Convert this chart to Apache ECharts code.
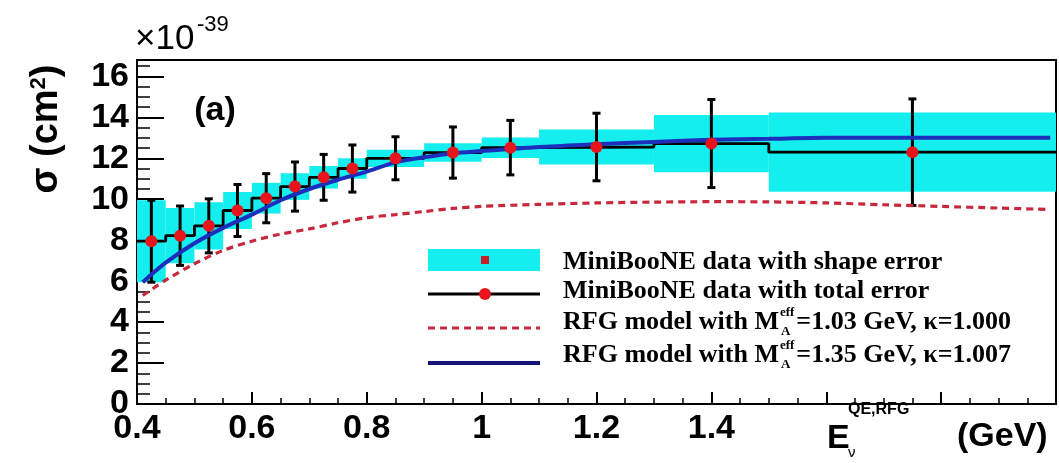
<!DOCTYPE html>
<html>
<head>
<meta charset="utf-8">
<script src="https://cdn.jsdelivr.net/npm/echarts@6/dist/echarts.min.js"></script>
<style>
  html, body { margin: 0; padding: 0; background: #fff; }
  #chart { width: 1059px; height: 463px; }
</style>
</head>
<body>
<div id="chart"></div>
<script>
// MiniBooNE CCQE cross section per neutron, in units of 1e-39 cm^2
const binLo     = [0.40, 0.45, 0.50, 0.55, 0.60, 0.65, 0.70, 0.75, 0.80, 0.90, 1.00, 1.10, 1.30, 1.50];
const binHi     = [0.45, 0.50, 0.55, 0.60, 0.65, 0.70, 0.75, 0.80, 0.90, 1.00, 1.10, 1.30, 1.50, 2.00];
const binCenter = [0.425, 0.475, 0.525, 0.575, 0.625, 0.675, 0.725, 0.775, 0.85, 0.95, 1.05, 1.20, 1.40, 1.75];
const xsec      = [7.95, 8.22, 8.70, 9.45, 10.05, 10.62, 11.07, 11.50, 12.00, 12.28, 12.52, 12.55, 12.72, 12.30];
const shapeErr  = [2.00, 1.35, 1.15, 0.90, 0.75, 0.65, 0.55, 0.50, 0.42, 0.45, 0.50, 0.85, 1.40, 1.93];
const totalErr  = [2.00, 1.45, 1.32, 1.27, 1.20, 1.20, 1.12, 1.15, 1.05, 1.25, 1.33, 1.65, 2.15, 2.60];

// RFG model predictions
const modelE      = [0.41, 0.45, 0.50, 0.55, 0.60, 0.65, 0.70, 0.75, 0.80, 0.85, 0.90, 0.95, 1.00, 1.10, 1.20, 1.30, 1.40, 1.50, 1.60, 1.70, 1.80, 1.90, 1.99];
const rfgNominal  = [5.30, 6.05, 6.85, 7.50, 7.95, 8.30, 8.55, 8.85, 9.10, 9.25, 9.40, 9.55, 9.65, 9.75, 9.82, 9.86, 9.88, 9.87, 9.82, 9.73, 9.65, 9.57, 9.50];
const rfgFitted   = [5.95, 6.90, 7.85, 8.60, 9.25, 9.95, 10.50, 10.95, 11.35, 11.80, 12.05, 12.25, 12.35, 12.55, 12.68, 12.80, 12.90, 12.95, 13.00, 13.00, 13.00, 13.00, 13.00];

// Labelled ticks
const xTickLabels = [0.4, 0.6, 0.8, 1.0, 1.2, 1.4];
const yTickLabels = [0, 2, 4, 6, 8, 10, 12, 14, 16];

const legendLabels = [
  'MiniBooNE data with shape error',
  'MiniBooNE data with total error',
  ['RFG model with M', '=1.03 GeV, \u03ba=1.000'],
  ['RFG model with M', '=1.35 GeV, \u03ba=1.007']
];

const CYAN = '#14eeee';
const RED = '#e8141c';
const BLUE = '#1c2fbc';
const DASH_RED = '#c8283c';
const SANS = '"Liberation Sans", Arial, Helvetica, sans-serif';
const SERIF = '"Liberation Serif", "Times New Roman", serif';

const boxData = binLo.map((lo, i) => [lo, binHi[i], xsec[i] + shapeErr[i], xsec[i] - shapeErr[i]]);
const errData = binCenter.map((x, i) => [x, xsec[i] - totalErr[i], xsec[i] + totalErr[i]]);
const stepData = [];
binLo.forEach((lo, i) => { stepData.push([lo, xsec[i]], [binHi[i], xsec[i]]); });
const pointData = binCenter.map((x, i) => [x, xsec[i]]);
const nominalData = modelE.map((e, i) => [e, rfgNominal[i]]);
const fittedData = modelE.map((e, i) => [e, rfgFitted[i]]);

const near = (v, list) => list.some(t => Math.abs(t - v) < 1e-6);

// text measurement for placing the M_A^eff sub/superscripts
const ctx = document.createElement('canvas').getContext('2d');
function textWidth(str, font) { ctx.font = font; return ctx.measureText(str).width; }

const legFont = 'bold 26px ' + SERIF;
const legSmall = 'bold 13px ' + SERIF;
const legX = 563;
const legRows = [262, 291, 322, 355];
const symRows = [260, 294, 328, 363];

function txt(x, y, text, font, align) {
  return { type: 'text', x: x, y: y, style: { text: text, font: font, fill: '#000', align: align || 'left', verticalAlign: 'middle', textAlign: align || 'left', textVerticalAlign: 'middle' } };
}

const graphics = [];
// legend symbols
graphics.push({ type: 'rect', shape: { x: 428, y: symRows[0] - 11, width: 112, height: 22 }, style: { fill: CYAN } });
graphics.push({ type: 'rect', shape: { x: 481, y: symRows[0] - 4, width: 8, height: 8 }, style: { fill: '#c4202c' } });
graphics.push({ type: 'line', shape: { x1: 428, y1: symRows[1], x2: 540, y2: symRows[1] }, style: { stroke: '#000', lineWidth: 3 } });
graphics.push({ type: 'circle', shape: { cx: 485, cy: symRows[1], r: 6 }, style: { fill: RED } });
graphics.push({ type: 'line', shape: { x1: 428, y1: symRows[2], x2: 540, y2: symRows[2] }, style: { stroke: DASH_RED, lineWidth: 3, lineDash: [7, 5] } });
graphics.push({ type: 'line', shape: { x1: 428, y1: symRows[3], x2: 540, y2: symRows[3] }, style: { stroke: '#141478', lineWidth: 4 } });

// legend text
legendLabels.forEach((lab, i) => {
  const y = legRows[i];
  if (typeof lab === 'string') {
    graphics.push(txt(legX, y, lab, legFont));
  } else {
    const w1 = textWidth(lab[0], legFont);
    const ws = Math.max(textWidth('eff', legSmall), textWidth('A', legSmall));
    graphics.push(txt(legX, y, lab[0], legFont));
    graphics.push(txt(legX + w1 + 1, y - 9, 'eff', legSmall));
    graphics.push(txt(legX + w1 + 2, y + 10, 'A', legSmall));
    graphics.push(txt(legX + w1 + ws + 3, y, lab[1], legFont));
  }
});

// exponent above the y axis
graphics.push(txt(135, 39, '\u00d710', '35px ' + SANS));
graphics.push(txt(197, 25, '-39', '22px ' + SANS));
// panel tag
graphics.push(txt(215, 111, '(a)', 'bold 34px ' + SANS, 'center'));
// y axis title
graphics.push({
  type: 'text', x: 47, y: 129, rotation: Math.PI / 2,
  style: {
    text: '{a|\u03c3 (cm}{s|2}{a|)}',
    rich: {
      a: { font: 'bold 38px ' + SANS, fill: '#000' },
      s: { font: 'bold 22px ' + SANS, fill: '#000', verticalAlign: 'top' }
    },
    align: 'center', verticalAlign: 'middle', textAlign: 'center', textVerticalAlign: 'middle'
  }
});
// x axis title
graphics.push(txt(827, 439, 'E', 'bold 34px ' + SANS));
graphics.push(txt(848, 410, 'QE,RFG', 'bold 16px ' + SANS));
graphics.push(txt(848, 453, '\u03bd', '15px ' + SANS));
graphics.push(txt(957, 437, '(GeV)', 'bold 34px ' + SANS));

const chart = echarts.init(document.getElementById('chart'), null, { renderer: 'canvas' });

chart.setOption({
  animation: false,
  backgroundColor: '#fff',
  grid: { left: 137, right: 3, top: 60, bottom: 59, show: true, borderColor: '#000', borderWidth: 2, backgroundColor: 'transparent' },
  xAxis: {
    type: 'value', min: 0.4, max: 2.0, interval: 0.2,
    axisLine: { show: true, onZero: false, lineStyle: { color: '#000', width: 2 } },
    axisTick: { show: true, inside: true, length: 12, lineStyle: { color: '#000', width: 2 } },
    minorTick: { show: true, splitNumber: 4, length: 6, lineStyle: { color: '#000', width: 1.5 } },
    splitLine: { show: false },
    axisLabel: {
      margin: 8, color: '#000', fontSize: 34, fontWeight: 'bold', fontFamily: SANS,
      showMinLabel: true, showMaxLabel: true,
      formatter: v => near(v, xTickLabels) ? String(+v.toFixed(1)) : ''
    }
  },
  yAxis: {
    type: 'value', min: 0, max: 16.8, interval: 2,
    axisLine: { show: true, onZero: false, lineStyle: { color: '#000', width: 2 } },
    axisTick: { show: true, inside: true, length: 27, lineStyle: { color: '#000', width: 2 } },
    minorTick: { show: true, splitNumber: 4, length: 13, lineStyle: { color: '#000', width: 1.5 } },
    splitLine: { show: false },
    axisLabel: {
      margin: 8, color: '#000', fontSize: 34, fontWeight: 'bold', fontFamily: SANS,
      showMinLabel: true, showMaxLabel: true,
      formatter: v => near(v, yTickLabels) ? String(Math.round(v)) : ''
    }
  },
  series: [
    {
      name: 'shape error', type: 'custom', z: 1, clip: true,
      data: boxData,
      renderItem: (params, api) => {
        const p0 = api.coord([api.value(0), api.value(3)]);
        const p1 = api.coord([api.value(1), api.value(2)]);
        return { type: 'rect', shape: { x: p0[0], y: p1[1], width: p1[0] - p0[0], height: p0[1] - p1[1] }, style: { fill: CYAN } };
      }
    },
    {
      name: 'histogram', type: 'line', z: 2, data: stepData,
      showSymbol: false, symbol: 'none',
      lineStyle: { color: '#000', width: 2.8 }
    },
    {
      name: 'total error', type: 'custom', z: 3, clip: true,
      data: errData,
      renderItem: (params, api) => {
        const lo = api.coord([api.value(0), api.value(1)]);
        const hi = api.coord([api.value(0), api.value(2)]);
        const st = { stroke: '#000', lineWidth: 3 };
        return {
          type: 'group',
          children: [
            { type: 'line', shape: { x1: lo[0], y1: lo[1], x2: hi[0], y2: hi[1] }, style: st },
            { type: 'line', shape: { x1: lo[0] - 4, y1: lo[1], x2: lo[0] + 4, y2: lo[1] }, style: st },
            { type: 'line', shape: { x1: hi[0] - 4, y1: hi[1], x2: hi[0] + 4, y2: hi[1] }, style: st }
          ]
        };
      }
    },
    {
      name: 'RFG fitted', type: 'line', z: 4, data: fittedData,
      showSymbol: false, symbol: 'none', smooth: 0.3,
      lineStyle: { color: BLUE, width: 4 }
    },
    {
      name: 'RFG nominal', type: 'line', z: 5, data: nominalData,
      showSymbol: false, symbol: 'none', smooth: 0.3,
      lineStyle: { color: DASH_RED, width: 3.2, type: [7, 5] }
    },
    {
      name: 'data', type: 'scatter', z: 6, data: pointData,
      symbol: 'circle', symbolSize: 12,
      itemStyle: { color: RED, opacity: 1 }
    }
  ],
  graphic: { elements: graphics }
});
</script>
</body>
</html>
